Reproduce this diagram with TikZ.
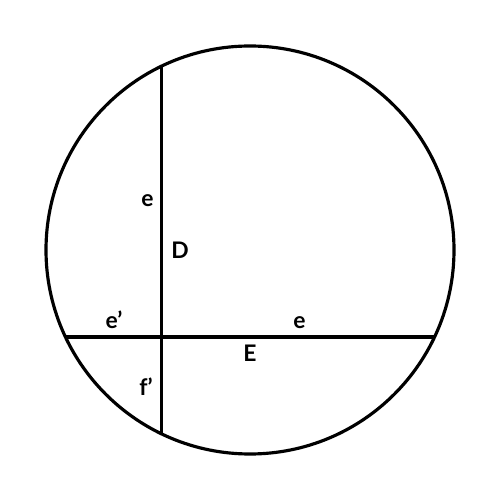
\documentclass[tikz,border=0pt]{standalone}
\usepackage{fontspec}
\setmainfont{Lato}
\usepackage{tikz}
\usetikzlibrary{positioning}

\begin{document}
\begin{tikzpicture}[
        font=\bfseries\fontsize{13}{15}\selectfont,
        % Styles
        rim/.style={% For the circle
            draw,
            line width=1.8pt,
            },
        chord/.style={% For the two straight lines
            line width=1.8pt,
            },
        mylabel/.style={% For the letters
            anchor=base,
            inner sep=0pt,
            },
        ]
    \useasboundingbox (-5,-5) rectangle (5,5);

    % Nodes
        % Centre and ends of the chords
        \coordinate (O) at (0,0);
        \coordinate (Dtop) at (-1.77,3.676);
        \coordinate (Dbot) at (-1.77,-3.676);
        \coordinate (Eleft) at (-3.69,-1.74);
        \coordinate (Eright) at (3.69,-1.74);
        \coordinate (X) at (Dtop |- Eleft);

        % Draw the circle
        \draw [rim] (O) circle (4.08);

        % Draw the letters
        \node [mylabel] (eup) at (-2.05,0.87) {e};
        \node [mylabel] (D) at (-1.4,-0.18) {D};
        \node [mylabel] (eleft) at (-2.72,-1.58) {e'};
        \node [mylabel] (eright) at (0.99,-1.58) {e};
        \node [mylabel] (E) at (0,-2.23) {E};
        \node [mylabel] (fleft) at (-2.08,-2.9) {f'};

    % Chords
        \draw [chord] (Dtop) -- (X) -- (Dbot);
        \draw [chord] (Eleft) -- (X) -- (Eright);

\end{tikzpicture}
\end{document}
